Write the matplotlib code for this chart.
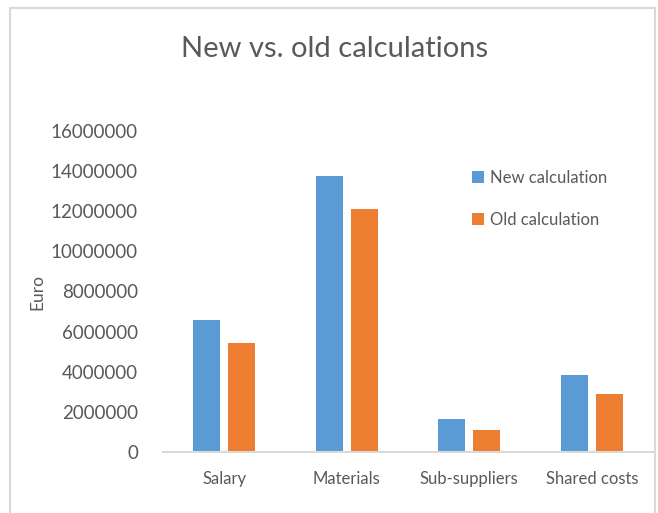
import numpy as np
import matplotlib.pyplot as plt
from matplotlib.patches import Rectangle

# data
categories = ["Salary", "Materials", "Sub-suppliers", "Shared costs"]
new_calc = [6580000, 13760000, 1650000, 3840000]
old_calc = [5440000, 12100000, 1100000, 2890000]
series_names = ["New calculation", "Old calculation"]
yticks = [0, 2000000, 4000000, 6000000, 8000000, 10000000, 12000000, 14000000, 16000000]

blue = "#5b9bd5"
orange = "#ed7d31"
txt = "#595959"

plt.rcParams['font.family'] = ['Lato', 'DejaVu Sans']

fig = plt.figure(figsize=(6.58, 5.13), dpi=100)
fig.patches.append(Rectangle((10/658, -0.01), 645/658, 1 - 8/513 + 0.01,
                             transform=fig.transFigure, fill=False,
                             edgecolor="#d9d9d9", linewidth=1.5))

ax = fig.add_axes([163/658, 1 - 452/513, 490/658, (452 - 131)/513])

x = np.arange(len(categories))
w = 0.22
gap = 0.065
ax.bar(x - (w + gap)/2, new_calc, w, color=blue, label=series_names[0])
ax.bar(x + (w + gap)/2, old_calc, w, color=orange, label=series_names[1])

ax.set_xlim(-0.5, len(categories) - 0.5)
ax.set_ylim(0, 16000000)
ax.set_yticks(yticks)
ax.set_yticklabels([str(v) for v in yticks])
ax.set_xticks(x)
ax.set_xticklabels(categories)
ax.tick_params(axis="both", length=0, colors=txt, labelsize=13.5)
ax.tick_params(axis="x", pad=14, labelsize=12)
ax.tick_params(axis="y", pad=18)

for s in ["top", "right", "left"]:
    ax.spines[s].set_visible(False)
ax.spines["bottom"].set_color("#d9d9d9")
ax.spines["bottom"].set_linewidth(1.5)

ax.set_ylabel("Euro", color=txt, fontsize=12.5, labelpad=4)

fig.text(0.508, 1 - 49/513, "New vs. old calculations", ha="center", va="center",
         fontsize=21, color=txt)

ax.legend(loc="upper left", bbox_to_anchor=(0.6, 0.925), frameon=False,
          fontsize=12, labelcolor=txt, handlelength=0.7, handleheight=0.7,
          handletextpad=0.4, labelspacing=1.55)

fig.savefig("out.png", dpi=100)
